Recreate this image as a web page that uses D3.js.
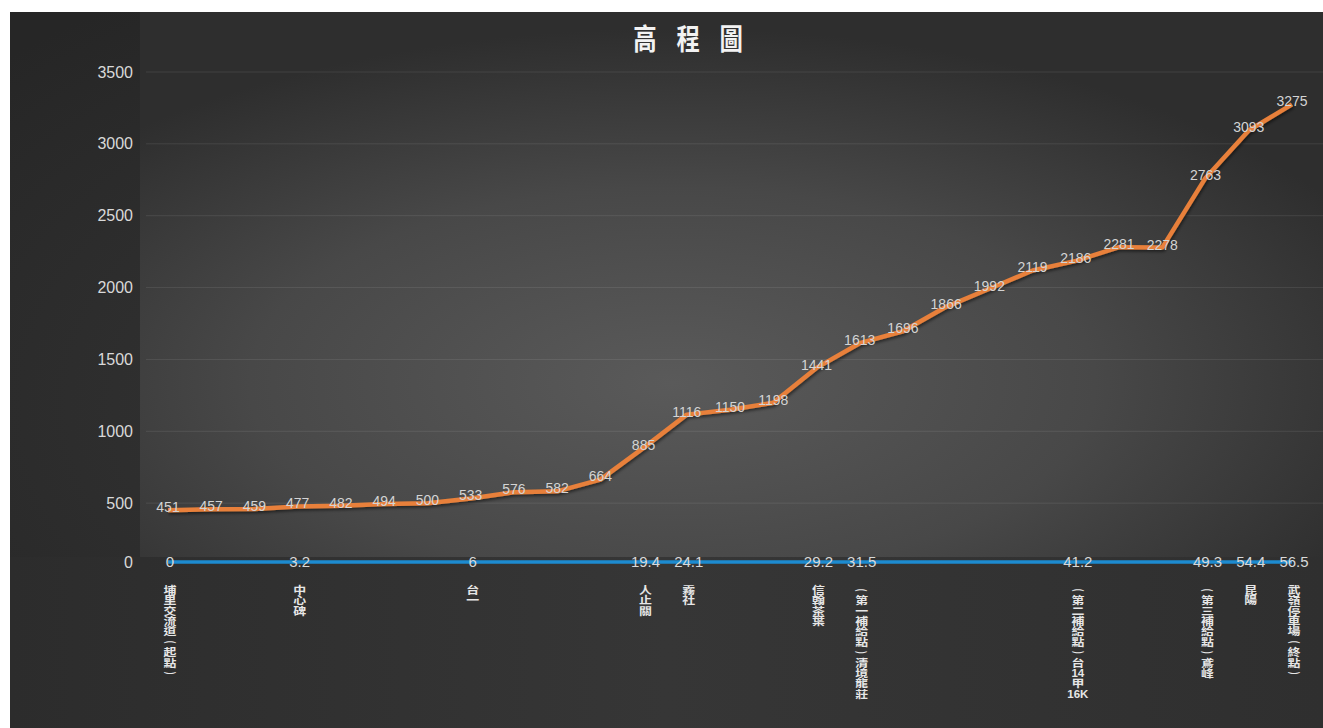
<!DOCTYPE html>
<html>
<head>
<meta charset="utf-8">
<script src="https://cdn.jsdelivr.net/npm/d3@7"></script>
<style>
	html, body { margin: 0; padding: 0; background: #fff; }
	svg { display: block; }
	.y-axis text, .band-axis text { fill: #d9d9d9; font: 16px "Liberation Sans", Arial, sans-serif; }
	.y-axis path, .y-axis line, .band-axis path, .band-axis line { display: none; }
</style>
</head>
<body>
<svg class="elev-chart" width="1323" height="728"></svg>
<script>
// Static data
const elevation = [451, 457, 459, 477, 482, 494, 500, 533, 576, 582, 664, 885, 1116, 1150, 1198, 1441, 1613, 1696, 1866, 1992, 2119, 2186, 2281, 2278, 2763, 3093, 3275];
const baseline = [0, 0, 0, 0, 0, 0, 0, 0, 0, 0, 0, 0, 0, 0, 0, 0, 0, 0, 0, 0, 0, 0, 0, 0, 0, 0, 0];
const distance = [0, null, null, 3.2, null, null, null, 6, null, null, null, 19.4, 24.1, null, null, 29.2, 31.5, null, null, null, null, 41.2, null, null, 49.3, 54.4, 56.5];
const places = ['埔里交流道(起點)', '', '', '中心碑', '', '', '', '台一', '', '', '', '人止關', '霧社', '', '', '信翰茶葉', '(第一補給點)清境龍莊', '', '', '', '', '(第二補給點)台14甲16K', '', '', '(第三補給點)鳶峰', '昆陽', '武嶺停車場(終點)'];
const yTicks = [500, 1000, 1500, 2000, 2500, 3000, 3500];
const title = '高程圖';

// Layout
const frame = { left: 10, top: 12 };
const plot = { left: 140, right: 1323, top: 72, bottom: 575, bandTop: 557 };
const bandShift = -13;
const W = 1323, H = 728;
const step = 10.4;

const svg = d3.select('.elev-chart');
const defs = svg.append('defs');

const bgGrad = defs.append('radialGradient').attr('id', 'bg')
	.attr('cx', '50%').attr('cy', '55%').attr('r', '70%');
bgGrad.append('stop').attr('offset', '0%').attr('stop-color', '#3a3a3a');
bgGrad.append('stop').attr('offset', '100%').attr('stop-color', '#262626');

const plotGrad = defs.append('radialGradient').attr('id', 'plotbg')
	.attr('cx', '45%').attr('cy', '68%').attr('r', '65%');
plotGrad.append('stop').attr('offset', '0%').attr('stop-color', '#5a5a5a');
plotGrad.append('stop').attr('offset', '55%').attr('stop-color', '#484848');
plotGrad.append('stop').attr('offset', '100%').attr('stop-color', '#2e2e2e');

const bandGrad = defs.append('linearGradient').attr('id', 'bandbg')
	.attr('x1', '0%').attr('x2', '100%');
bandGrad.append('stop').attr('offset', '0%').attr('stop-color', '#2c2c2c');
bandGrad.append('stop').attr('offset', '50%').attr('stop-color', '#363636');
bandGrad.append('stop').attr('offset', '100%').attr('stop-color', '#2f2f2f');

const shadow = defs.append('filter').attr('id', 'shadow')
	.attr('x', '-5%').attr('y', '-5%').attr('width', '110%').attr('height', '110%');
shadow.append('feDropShadow').attr('dx', 1).attr('dy', 2).attr('stdDeviation', 1.5)
	.attr('flood-color', '#000').attr('flood-opacity', 0.5);

// Backgrounds
svg.append('rect').attr('x', frame.left).attr('y', frame.top)
	.attr('width', W - frame.left).attr('height', H - frame.top).attr('fill', 'url(#bg)');
svg.append('rect').attr('x', plot.left).attr('y', frame.top)
	.attr('width', plot.right - plot.left).attr('height', plot.bandTop - frame.top).attr('fill', 'url(#plotbg)');
svg.append('rect').attr('x', frame.left).attr('y', plot.bandTop)
	.attr('width', W - frame.left).attr('height', H - plot.bandTop).attr('fill', 'url(#bandbg)');

// Scales
const x = d3.scalePoint().domain(d3.range(elevation.length)).range([168, 1292]);
const y = d3.scaleLinear().domain([0, 3500]).range([plot.bottom, plot.top]);

// Title (glyphs are tall and narrow in the original)
svg.append('text')
	.attr('transform', 'translate(698, 50) scale(0.9, 1.12)')
	.attr('text-anchor', 'middle')
	.attr('fill', '#f2f2f2')
	.style('font', '600 26px "Noto Sans CJK TC", sans-serif')
	.style('letter-spacing', '22px')
	.text(title);

// Gridlines
svg.append('g').selectAll('line')
	.data(yTicks)
	.enter().append('line')
	.attr('x1', 146).attr('x2', plot.right)
	.attr('y1', d => y(d)).attr('y2', d => y(d))
	.attr('stroke', '#ffffff').attr('stroke-opacity', 0.09);

// Y axis
svg.append('g')
	.attr('class', 'y-axis')
	.attr('transform', `translate(${133}, 0)`)
	.call(d3.axisLeft(y).tickValues(yTicks).tickFormat(d3.format('d')).tickSize(0).tickPadding(0));

// Elevation line
const line = d3.line().x((d, i) => x(i)).y(d => y(d));

svg.append('path')
	.datum(elevation)
	.attr('d', line)
	.attr('fill', 'none')
	.attr('stroke', '#e8803a')
	.attr('stroke-width', 4.5)
	.attr('stroke-linejoin', 'round')
	.attr('filter', 'url(#shadow)');

svg.append('g').selectAll('text')
	.data(elevation)
	.enter().append('text')
	.attr('x', (d, i) => x(i))
	.attr('y', d => y(d) - 3)
	.attr('dy', '0.35em')
	.attr('text-anchor', 'middle')
	.attr('fill', '#d4d4d4')
	.style('font', '14px "Liberation Sans", Arial, sans-serif')
	.text(d => d);

// Distance band
const band = svg.append('g').attr('transform', `translate(0, ${bandShift})`);

band.append('g')
	.attr('class', 'band-axis')
	.attr('transform', `translate(${133}, 0)`)
	.call(d3.axisLeft(y).tickValues([0]).tickSize(0).tickPadding(0));

band.append('path')
	.datum(baseline)
	.attr('d', line)
	.attr('fill', 'none')
	.attr('stroke', '#1d8bd0')
	.attr('stroke-width', 3.5);

band.append('g').selectAll('text')
	.data(distance.map((d, i) => ({ d, i })).filter(p => p.d !== null))
	.enter().append('text')
	.attr('x', p => x(p.i) + 2)
	.attr('y', y(0))
	.attr('dy', '0.35em')
	.attr('text-anchor', 'middle')
	.attr('fill', '#d9d9d9')
	.style('font', '15px "Liberation Sans", Arial, sans-serif')
	.text(p => p.d);

// Place names, one glyph (or latin run) per row
const tokenize = s => s.match(/[()]|[A-Za-z0-9]+|./g) || [];

const names = svg.append('g').selectAll('g')
	.data(places)
	.enter().append('g')
	.attr('transform', (d, i) => `translate(${x(i) + 2}, 590)`);

names.selectAll('text')
	.data(d => tokenize(d))
	.enter().append('text')
	.attr('transform', (t, j) => {
		const ty = j * step;
		if (t === '(' || t === ')') return `translate(0, ${ty}) rotate(90) scale(0.8, 1.1)`;
		if (/^[A-Za-z0-9]/.test(t)) return `translate(0, ${ty})`;
		return `translate(0, ${ty}) scale(1.22, 1)`;
	})
	.attr('dy', '0.36em')
	.attr('text-anchor', 'middle')
	.attr('fill', '#e6e6e6')
	.style('font', t => /^[A-Za-z0-9]/.test(t)
		? '11.5px "Liberation Sans", Arial, sans-serif'
		: '10.6px "Noto Sans CJK TC", sans-serif')
	.style('font-weight', 600)
	.text(t => t);
</script>
</body>
</html>
